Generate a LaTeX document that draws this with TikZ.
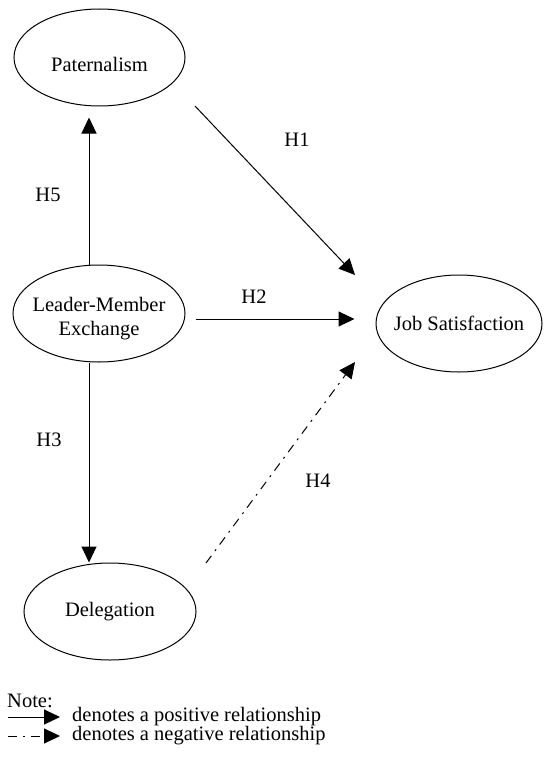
\documentclass[tikz,border=0pt]{standalone}
\usepackage{fontspec}
\setmainfont{Liberation Serif}
\usetikzlibrary{arrows.meta,shapes.geometric}

\begin{document}
\begin{tikzpicture}[x=1pt,y=-1pt,
    every node/.style={font=\fontsize{20.5}{24}\selectfont},
    construct/.style={draw,ellipse,line width=1pt,minimum width=#1,
                      minimum height=97pt,inner sep=0pt},
    link/.style={line width=1pt,-{Triangle[length=16pt,width=15pt]}},
    negative/.style={link,dash pattern=on 9pt off 6pt on 2pt off 6pt},
    hyp/.style={inner sep=0pt}]
  \useasboundingbox (0,0) rectangle (543,765);
  % constructs
  \node[construct=171pt,label={[yshift=-7pt]center:Paternalism}] (pat) at (99.5,57.5) {};
  \node[construct=172pt,label={[yshift=-5pt,align=center]center:Leader-Member\\Exchange}] (lmx) at (99,313.5) {};
  \node[construct=172pt,label={center:Delegation}] (del) at (110,611.5) {};
  \node[construct=166pt,label={center:Job Satisfaction}] (js) at (459,323.5) {};
  % free ends of the diagonal paths
  \coordinate (h1from) at (195,106);
  \coordinate (h1to)   at (355,275);
  \coordinate (h4from) at (206,563);
  \coordinate (h4to)   at (355,362);
  % hypotheses
  \draw[link,shorten >=11pt] ([xshift=-10pt]lmx.north) -- ([xshift=-10pt]lmx.north |- pat.south);
  \draw[link] ([xshift=-10pt]lmx.south) -- ([xshift=-10pt]lmx.south |- del.north);
  \draw[link,shorten <=10pt,shorten >=21pt] ([yshift=-5.5pt]lmx.east) -- ([yshift=4.5pt]js.west);
  \draw[link] (h1from) -- (h1to);
  \draw[negative] (h4from) -- (h4to);
  \node[hyp] (h1) at (297,140) {H1};
  \node[hyp] (h2) at (254,297) {H2};
  \node[hyp] (h3) at (49,440) {H3};
  \node[hyp] (h4) at (318,481) {H4};
  \node[hyp] (h5) at (48,195) {H5};
  % note
  \node[anchor=west,inner sep=0pt] (note) at (7,701) {Note:};
  \node[anchor=west,inner sep=0pt] (pos) at (72,717) {denotes a positive relationship};
  \node[anchor=west,inner sep=0pt] (neg) at (72,736) {denotes a negative relationship};
  \coordinate (posfrom) at (8,717);
  \coordinate (negfrom) at (8,736);
  \draw[link,shorten >=12pt] (posfrom) -- (pos.west);
  \draw[negative,shorten >=12pt] (negfrom) -- (neg.west);
\end{tikzpicture}
\end{document}
